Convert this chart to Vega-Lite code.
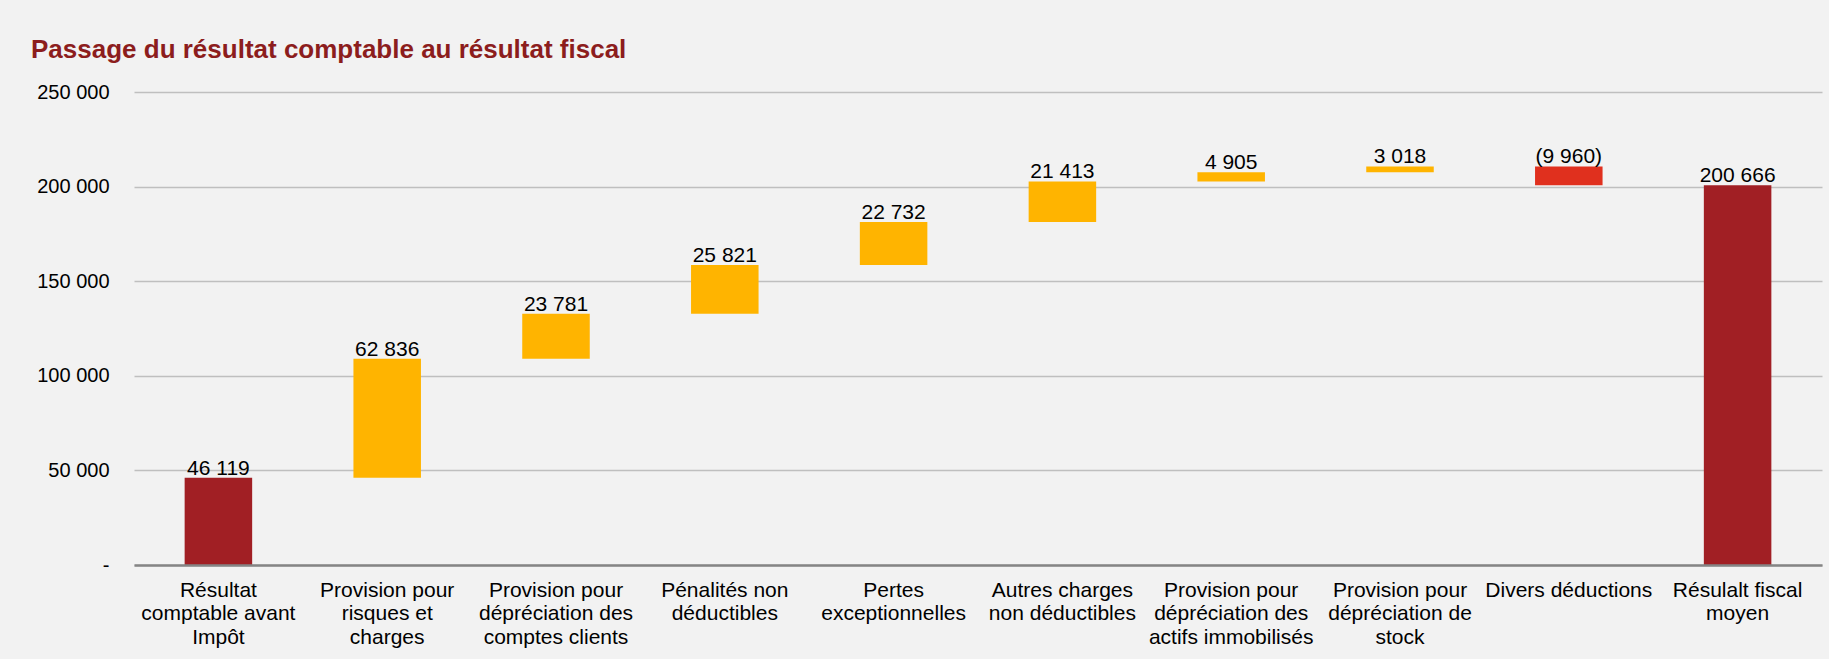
{
  "$schema": "https://vega.github.io/schema/vega-lite/v6.json",
  "autosize": "none",
  "width": 1688,
  "height": 473,
  "padding": {"left": 134, "top": 92, "right": 7, "bottom": 94},
  "background": "#F2F2F2",
  "config": {"view": {"stroke": null}},
  "title": {
    "text": "Passage du résultat comptable au résultat fiscal",
    "anchor": "start",
    "frame": "group",
    "dx": -103,
    "offset": 19,
    "font": "Liberation Sans",
    "fontSize": 26,
    "fontWeight": "bold",
    "color": "#8C1D1D"
  },
  "data": {
    "values": [
      {"cat": "Résultat\ncomptable avant\nImpôt", "start": 0, "end": 46119, "top": 46119, "label": "46 119", "type": "total"},
      {"cat": "Provision pour\nrisques et\ncharges", "start": 46119, "end": 108955, "top": 108955, "label": "62 836", "type": "increase"},
      {"cat": "Provision pour\ndépréciation des\ncomptes clients", "start": 108955, "end": 132736, "top": 132736, "label": "23 781", "type": "increase"},
      {"cat": "Pénalités non\ndéductibles", "start": 132736, "end": 158557, "top": 158557, "label": "25 821", "type": "increase"},
      {"cat": "Pertes\nexceptionnelles", "start": 158557, "end": 181289, "top": 181289, "label": "22 732", "type": "increase"},
      {"cat": "Autres charges\nnon déductibles", "start": 181289, "end": 202702, "top": 202702, "label": "21 413", "type": "increase"},
      {"cat": "Provision pour\ndépréciation des\nactifs immobilisés", "start": 202702, "end": 207607, "top": 207607, "label": "4 905", "type": "increase"},
      {"cat": "Provision pour\ndépréciation de\nstock", "start": 207607, "end": 210625, "top": 210625, "label": "3 018", "type": "increase"},
      {"cat": "Divers déductions", "start": 210625, "end": 200666, "top": 210625, "label": "(9 960)", "type": "decrease"},
      {"cat": "Résulalt fiscal\nmoyen", "start": 0, "end": 200666, "top": 200666, "label": "200 666", "type": "total"}
    ]
  },
  "encoding": {
    "x": {
      "field": "cat",
      "type": "nominal",
      "sort": null,
      "title": null,
      "scale": {"paddingInner": 0.6, "paddingOuter": 0.3},
      "axis": {
        "labelAngle": 0,
        "labelExpr": "split(datum.value, '\\n')",
        "labelFont": "Liberation Sans",
        "labelFontSize": 21,
        "labelColor": "#000000",
        "labelLineHeight": 23.7,
        "labelPadding": 14,
        "labelBaseline": "top",
        "ticks": false,
        "domain": true,
        "domainColor": "#858585",
        "domainWidth": 2.5,
        "grid": false,
        "zindex": 1
      }
    }
  },
  "layer": [
    {
      "mark": {"type": "bar", "stroke": null},
      "encoding": {
        "y": {
          "field": "start",
          "type": "quantitative",
          "title": null,
          "scale": {"domain": [0, 250000], "nice": false},
          "axis": {
            "values": [0, 50000, 100000, 150000, 200000, 250000],
            "labelExpr": "datum.value == 0 ? '-' : replace(format(datum.value, ','), ',', ' ')",
            "labelFont": "Liberation Sans",
            "labelFontSize": 20,
            "labelColor": "#000000",
            "labelPadding": 25,
            "ticks": false,
            "domain": false,
            "grid": true,
            "gridColor": "#BFBFBF",
            "gridWidth": 1.5
          }
        },
        "y2": {"field": "end"},
        "color": {
          "field": "type",
          "type": "nominal",
          "scale": {"domain": ["total", "increase", "decrease"], "range": ["#A11F24", "#FFB400", "#E0301E"]},
          "legend": null
        }
      }
    },
    {
      "mark": {"type": "text", "baseline": "alphabetic", "dy": -3, "font": "Liberation Sans", "fontSize": 21, "color": "#000000"},
      "encoding": {
        "y": {"field": "top", "type": "quantitative"},
        "text": {"field": "label", "type": "nominal"}
      }
    }
  ]
}
